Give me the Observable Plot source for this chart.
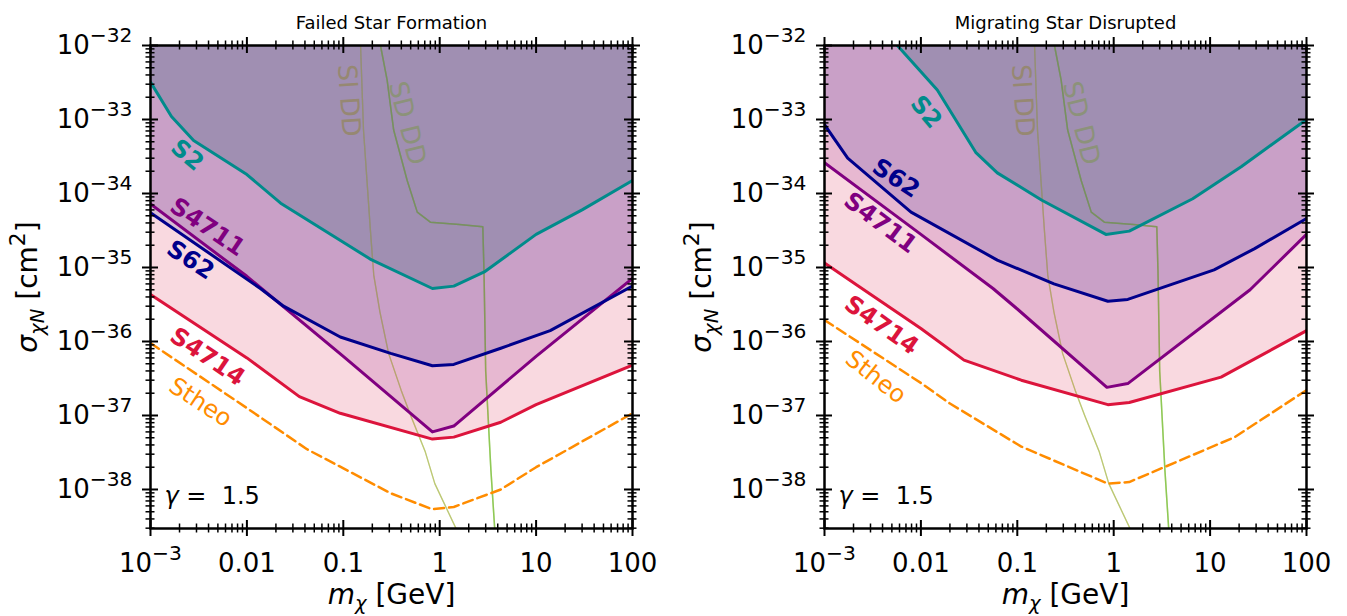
<!DOCTYPE html>
<html>
<head>
<meta charset="utf-8">
<script src="https://cdn.jsdelivr.net/npm/d3@7"></script>
<script src="https://cdn.jsdelivr.net/npm/@observablehq/plot@0.6"></script>
<style>
  html, body { margin: 0; padding: 0; background: #fff; }
  #wrap { display: flex; width: 1347px; height: 616px; overflow: hidden; }
  #wrap svg { display: block; }
</style>
</head>
<body>
<div id="wrap"></div>
<script>
// ---- axis ranges ----
const xDomain = [1e-3, 100];
const yDomain = [2.97e-39, 1e-32];
const xTickValues = [1e-3, 1e-2, 1e-1, 1, 10, 100];
const xTickLabels = ["10^{−3}", "0.01", "0.1", "1", "10", "100"];
const yTickValues = [1e-38, 1e-37, 1e-36, 1e-35, 1e-34, 1e-33, 1e-32];
const yTickLabels = ["10^{−38}", "10^{−37}", "10^{−36}", "10^{−35}", "10^{−34}", "10^{−33}", "10^{−32}"];

// ---- direct-detection boundaries [mass GeV, sigma cm^2] (same in both panels) ----
const siDD = [[0.151,1e-32],[0.162,7.2e-34],[0.191,3.2e-35],[0.207,7.9e-36],[0.24,2.5e-36],[0.295,6.9e-37],[0.398,2.2e-37],[0.5,1.0e-37],[0.71,3.2e-38],[0.89,1.2e-38],[1.48,2.95e-39]];
const sdDD = [[0.243,1e-32],[0.285,3.4e-33],[0.333,7.2e-34],[0.46,1.5e-34],[0.585,5.6e-35],[0.8,4.1e-35],[1.6,3.8e-35],[2.8,3.55e-35],[2.88,8.9e-36],[3.0,4.0e-37],[3.4,1.8e-38],[3.72,2.95e-39]];

// ---- Failed Star Formation ----
const leftS2    = [[0.001,3.2e-33],[0.00165,1.1e-33],[0.0028,5.2e-34],[0.01,1.8e-34],[0.0224,7.4e-35],[0.1,2.2e-35],[0.19,1.3e-35],[0.84,5.2e-36],[1.4,5.6e-36],[2.9,8.7e-36],[10,2.8e-35],[30,6.0e-35],[100,1.5e-34]];
const leftS4711 = [[0.001,7.2e-35],[0.01,7.6e-36],[0.1,6.3e-37],[0.84,6.0e-38],[1.4,7.2e-38],[10,6.3e-37],[100,7.1e-36]];
const leftS62   = [[0.001,5.5e-35],[0.0138,5.2e-36],[0.024,3.0e-36],[0.093,1.15e-36],[0.31,6.9e-37],[0.84,4.7e-37],[1.4,4.9e-37],[4.3,8.1e-37],[14,1.4e-36],[100,5.6e-36]];
const leftS4714 = [[0.001,4.3e-36],[0.01,6.0e-37],[0.035,1.8e-37],[0.093,1.07e-37],[0.84,4.8e-38],[1.4,5.1e-38],[4.3,8.1e-38],[10,1.4e-37],[100,4.8e-37]];
const leftStheo = [[0.001,9.5e-37],[0.01,1.26e-37],[0.042,3.5e-38],[0.31,8.9e-39],[0.84,5.4e-39],[1.4,5.8e-39],[4.3,1.0e-38],[10,2.0e-38],[100,1.07e-37]];

// ---- Migrating Star Disrupted ----
const rightS2    = [[0.0057,1e-32],[0.0148,2.5e-33],[0.037,3.6e-34],[0.062,1.9e-34],[0.18,8.1e-35],[0.83,2.8e-35],[1.45,3.1e-35],[6.6,8.5e-35],[21,2.3e-34],[100,1.0e-33]];
const rightS62   = [[0.001,8.5e-34],[0.00174,3.0e-34],[0.0079,5.6e-35],[0.062,1.26e-35],[0.24,6.0e-36],[0.87,3.5e-36],[1.4,3.7e-36],[11,9.3e-36],[29,1.8e-35],[100,4.6e-35]];
const rightS4711 = [[0.001,2.6e-34],[0.01,2.8e-35],[0.056,5.2e-36],[0.1,2.75e-36],[0.85,2.4e-37],[1.4,2.7e-37],[26,5.0e-36],[100,2.8e-35]];
const rightS4714 = [[0.001,1.15e-35],[0.0023,5.5e-36],[0.01,1.5e-36],[0.028,5.6e-37],[0.11,3.0e-37],[0.87,1.4e-37],[1.45,1.5e-37],[13,3.3e-37],[100,1.4e-36]];
const rightStheo = [[0.001,1.95e-36],[0.01,2.75e-37],[0.02,1.45e-37],[0.11,3.8e-38],[0.87,1.2e-38],[1.45,1.26e-38],[18,5.1e-38],[100,2.2e-37]];

// ---- series styling ----
const colors = {S2: "#008b8b", S62: "#00008b", S4711: "#800080", S4714: "#dc143c", Stheo: "#ff8c00"};
const fills = [["S4714", "#dc143c", 0.16], ["S4711", "#800080", 0.15], ["S62", "#000080", 0.13], ["S2", "#285d74", 0.25]];

// ---- in-plot annotations [text, mass, sigma, rotation] ----
const leftLabels = [["S2",0.0024,3.3e-34,40],["S4711",0.0039,3.5e-35,34],["S62",0.0026,1.26e-35,33],["S4714",0.0039,6.2e-37,34],["Stheo",0.0033,1.5e-37,33]];
const rightLabels = [["S2",0.0113,1.26e-33,50],["S62",0.0055,1.6e-34,33],["S4711",0.0038,4.0e-35,37],["S4714",0.0039,1.66e-36,35],["Stheo",0.0034,3.3e-37,38]];
const ddLabels = [["SI DD",0.114,1.8e-33,86,"#968872"],["SD DD",0.46,8.9e-34,76,"#8c927a"]];

const panels = [
  {title: "Failed Star Formation", width: 673, marginLeft: 150, marginRight: 41,
   series: {S2: leftS2, S4711: leftS4711, S62: leftS62, S4714: leftS4714, Stheo: leftStheo}, labels: leftLabels},
  {title: "Migrating Star Disrupted", width: 674, marginLeft: 151, marginRight: 41,
   series: {S2: rightS2, S4711: rightS4711, S62: rightS62, S4714: rightS4714, Stheo: rightStheo}, labels: rightLabels}
];

const H_TOTAL = 616, M_TOP = 45, M_BOTTOM = 88;
const FONT = "DejaVu Sans";
const X = d => d[0], Y = d => d[1];

function frameTicks(W, H) {
  const minX = [];
  for (let e = -3; e < 2; e++) for (let k = 2; k < 10; k++) minX.push(k * Math.pow(10, e));
  const minY = [];
  for (let e = -39; e < -32; e++) for (let k = 2; k < 10; k++) {
    const v = k * Math.pow(10, e);
    if (v >= yDomain[0] && v <= yDomain[1]) minY.push(v);
  }
  const M = 8, m = 4.5;
  const o = (w) => ({stroke: "black", strokeWidth: w});
  return [
    Plot.tickX(xTickValues, {x: d => d, insetTop: -M, insetBottom: H - M, ...o(2)}),
    Plot.tickX(xTickValues, {x: d => d, insetTop: H - M, insetBottom: -M, ...o(2)}),
    Plot.tickX(minX, {x: d => d, insetTop: -m, insetBottom: H - m, ...o(1.5)}),
    Plot.tickX(minX, {x: d => d, insetTop: H - m, insetBottom: -m, ...o(1.5)}),
    Plot.tickY(yTickValues, {y: d => d, insetLeft: -M, insetRight: W - M, ...o(2)}),
    Plot.tickY(yTickValues, {y: d => d, insetLeft: W - M, insetRight: -M, ...o(2)}),
    Plot.tickY(minY, {y: d => d, insetLeft: -m, insetRight: W - m, ...o(1.5)}),
    Plot.tickY(minY, {y: d => d, insetLeft: W - m, insetRight: -m, ...o(1.5)})
  ];
}

function makePanel(p) {
  const W = p.width - p.marginLeft - p.marginRight;
  const H = H_TOTAL - M_TOP - M_BOTTOM;
  const marks = [];
  const siStyle = {x: X, y: Y, stroke: "#bcc874", strokeWidth: 1.3, clip: true};
  const sdStyle = {x: X, y: Y, stroke: "#8fc955", strokeWidth: 1.5, clip: true};
  // SD DD excluded region (light green), boundary lines beneath the stellar fills
  marks.push(Plot.areaY([...sdDD, [xDomain[1], yDomain[0]]], {x: X, y1: Y, y2: yDomain[1], fill: "yellowgreen", fillOpacity: 0.14, clip: true}));
  marks.push(Plot.line(siDD, siStyle));
  marks.push(Plot.line(sdDD, sdStyle));
  // stellar exclusion fills (from curve to top)
  for (const [k, c, a] of fills) {
    marks.push(Plot.areaY(p.series[k], {x: X, y1: Y, y2: yDomain[1], fill: c, fillOpacity: a, clip: true}));
  }
  // faint overlay of DD lines on top of the fills
  marks.push(Plot.line(siDD, {...siStyle, strokeOpacity: 0.35}));
  marks.push(Plot.line(sdDD, {...sdStyle, strokeOpacity: 0.35}));
  // curves
  marks.push(Plot.line(p.series.Stheo, {x: X, y: Y, stroke: colors.Stheo, strokeWidth: 2.5, strokeDasharray: "10,5", clip: true}));
  for (const k of ["S4714", "S4711", "S62", "S2"]) {
    marks.push(Plot.line(p.series[k], {x: X, y: Y, stroke: colors[k], strokeWidth: 3, strokeLinejoin: "round", clip: true}));
  }
  // labels
  for (const [t, mx, sy, r] of p.labels) {
    marks.push(Plot.text([[mx, sy]], {x: X, y: Y, text: () => t, rotate: r, fill: colors[t],
      fontSize: 24, fontWeight: t === "Stheo" ? "normal" : "bold", fontFamily: FONT}));
  }
  for (const [t, mx, sy, r, c] of ddLabels) {
    marks.push(Plot.text([[mx, sy]], {x: X, y: Y, text: () => t, rotate: r, fill: c, fontSize: 26, fontFamily: FONT}));
  }
  marks.push(Plot.text(["*γ* =\u00a0 1.5"], {text: d => d, frameAnchor: "bottom-left", dx: 14, dy: -25, textAnchor: "start", fontSize: 24, fontFamily: FONT}));
  // frame and ticks
  marks.push(Plot.frame({stroke: "black", strokeWidth: 2.5}));
  marks.push(...frameTicks(W, H));
  // axes
  marks.push(Plot.axisX({ticks: xTickValues, tickSize: 0, tickPadding: 25, fontSize: 26, fontFamily: FONT,
    tickFormat: d => xTickLabels[xTickValues.indexOf(d)], label: null}));
  marks.push(Plot.axisY({ticks: yTickValues, tickSize: 0, tickPadding: 18, fontSize: 26, fontFamily: FONT,
    tickFormat: d => yTickLabels[yTickValues.indexOf(d)], label: null}));
  // titles and axis labels
  marks.push(Plot.text([p.title], {text: d => d, frameAnchor: "top", dy: -29, fontSize: 18, fontFamily: FONT}));
  marks.push(Plot.text(["*m*_{χ} [GeV]"], {text: d => d, frameAnchor: "bottom", textAnchor: "middle", dy: 75, fontSize: 28, fontFamily: FONT}));
  marks.push(Plot.text(["*σ*_{χN} [cm^{2}]"], {text: d => d, frameAnchor: "left", textAnchor: "middle", dx: -122, rotate: -90, fontSize: 28, fontFamily: FONT}));

  return Plot.plot({
    width: p.width, height: H_TOTAL,
    marginLeft: p.marginLeft, marginRight: p.marginRight, marginTop: M_TOP, marginBottom: M_BOTTOM,
    x: {type: "log", domain: xDomain},
    y: {type: "log", domain: yDomain},
    style: {fontFamily: FONT, fontSize: "20px", background: "white", overflow: "visible", color: "black"},
    marks
  });
}

function richify(el) {
  const s = el.textContent;
  if (!/[\^_*]/.test(s)) return;
  const fs = parseFloat(getComputedStyle(el).fontSize) || 26;
  const parts = s.split(/(\*[^*]+\*|_\{[^}]*\}|\^\{[^}]*\})/).filter(q => q !== "");
  el.textContent = "";
  let shift = 0;
  for (const q of parts) {
    let t = q, italic = false, size = null, target = 0;
    if (q.startsWith("*")) { t = q.slice(1, -1); italic = true; }
    else if (q.startsWith("_{")) { t = q.slice(2, -1); italic = true; size = "0.7em"; target = 0.22 * fs; }
    else if (q.startsWith("^{")) { t = q.slice(2, -1); size = "0.78em"; target = -0.45 * fs; }
    const ts = document.createElementNS("http://www.w3.org/2000/svg", "tspan");
    ts.textContent = t;
    if (target - shift !== 0) ts.setAttribute("dy", target - shift);
    shift = target;
    if (italic) ts.setAttribute("font-style", "italic");
    if (size) ts.setAttribute("font-size", size);
    el.appendChild(ts);
  }
}

const wrap = document.getElementById("wrap");
for (const p of panels) {
  const svg = makePanel(p);
  wrap.appendChild(svg);
  svg.querySelectorAll("text").forEach(richify);
}
</script>
</body>
</html>
